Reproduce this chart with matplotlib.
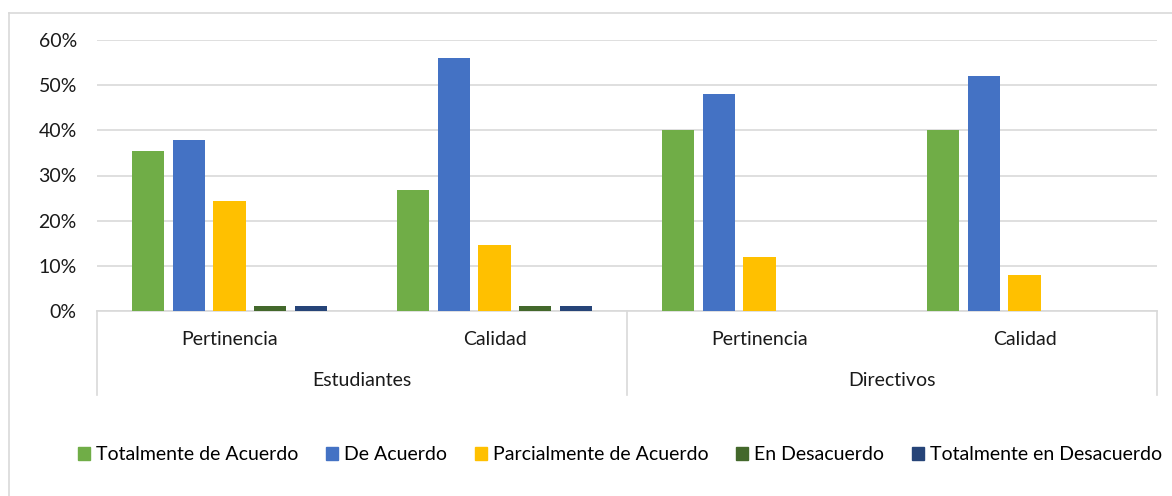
import matplotlib.pyplot as plt
import matplotlib.transforms as mtransforms
from matplotlib.patches import Patch
import numpy as np

plt.rcParams['font.family'] = ['Lato', 'DejaVu Sans']

# Data (percent)
grupos = ['Estudiantes', 'Directivos']
categorias = ['Pertinencia', 'Calidad', 'Pertinencia', 'Calidad']
series = ['Totalmente de Acuerdo', 'De Acuerdo', 'Parcialmente de Acuerdo',
          'En Desacuerdo', 'Totalmente en Desacuerdo']
totalmente_de_acuerdo = [35.4, 26.8, 40.0, 40.0]
de_acuerdo = [37.8, 56.1, 48.0, 52.0]
parcialmente = [24.4, 14.6, 12.0, 8.0]
en_desacuerdo = [1.2, 1.2, 0.0, 0.0]
totalmente_en_desacuerdo = [1.2, 1.2, 0.0, 0.0]

valores = [totalmente_de_acuerdo, de_acuerdo, parcialmente,
           en_desacuerdo, totalmente_en_desacuerdo]
colores = ['#70AD47', '#4472C4', '#FFC000', '#43682B', '#264478']

W, H = 1172, 496
fig = plt.figure(figsize=(W / 100, H / 100), dpi=100)
ax = fig.add_axes([97 / W, 1 - 311 / H, 1060 / W, 271 / H])

x = np.arange(len(categorias))
paso = 0.153
ancho = 0.121
for i, (vals, col) in enumerate(zip(valores, colores)):
    ax.bar(x + (i - 2) * paso, np.array(vals) / 100, width=ancho, color=col,
           zorder=3, label=series[i])

ax.set_xlim(-0.5, 3.5)
ax.set_ylim(0, 0.6)
ax.set_yticks(np.arange(0, 0.61, 0.1))
ax.set_yticklabels([f'{int(round(v * 100))}%' for v in np.arange(0, 0.61, 0.1)],
                   fontsize=14, color='#1a1a1a')
ax.set_xticks([])
ax.tick_params(axis='y', length=0, pad=14.5)
ax.yaxis.grid(True, color='#D9D9D9', linewidth=1.2, zorder=0)
for s in ['top', 'right', 'left']:
    ax.spines[s].set_visible(False)
ax.spines['bottom'].set_color('#D9D9D9')
ax.spines['bottom'].set_linewidth(1.2)

# hierarchical category axis
trans = mtransforms.blended_transform_factory(ax.transData, ax.transAxes)
for i, c in enumerate(categorias):
    ax.text(i, -0.107, c, transform=trans, ha='center', va='center',
            fontsize=14, color='#1a1a1a')
for j, g in enumerate(grupos):
    ax.text(2 * j + 0.5, -0.258, g, transform=trans, ha='center', va='center',
            fontsize=14, color='#1a1a1a')
for xv in [-0.5, 1.5, 3.5]:
    ax.plot([xv, xv], [0, -0.31], transform=trans, color='#D9D9D9',
            linewidth=1.2, clip_on=False)

# legend
handles = [Patch(color=c, label=s) for c, s in zip(colores, series)]
fig.legend(handles=handles, loc='center', bbox_to_anchor=(620 / W, 1 - 455 / H),
           ncol=5, frameon=False, fontsize=14, handlelength=0.6,
           handleheight=0.6, handletextpad=0.3, columnspacing=1.45)

# chart area border (left / top visible)
fig.add_artist(plt.Line2D([9 / W, 9 / W], [0, 1 - 13 / H], color='#D9D9D9',
                          linewidth=1.2, transform=fig.transFigure))
fig.add_artist(plt.Line2D([9 / W, 1], [1 - 13 / H, 1 - 13 / H], color='#D9D9D9',
                          linewidth=1.2, transform=fig.transFigure))

fig.savefig('out.png', dpi=100)
